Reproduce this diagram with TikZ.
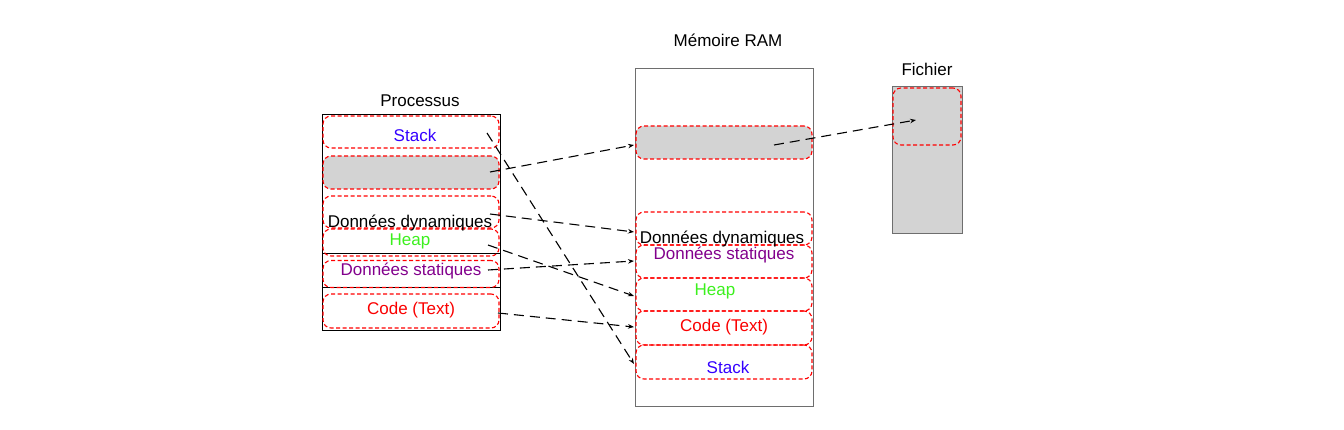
\documentclass[tikz,border=0pt]{standalone}
\usepackage{fontspec}
\setmainfont{Liberation Sans}
\usetikzlibrary{arrows.meta}
\definecolor{stkblue}{RGB}{51,0,255}
\definecolor{heapgreen}{RGB}{60,240,30}
\definecolor{statpurple}{RGB}{130,0,140}
\definecolor{codered}{RGB}{250,0,0}
\definecolor{fillgray}{RGB}{211,211,211}
\definecolor{framegray}{RGB}{110,110,110}
\begin{document}
\begin{tikzpicture}[x=1pt,y=-1pt,
  seg/.style={draw=red, dash pattern=on 4pt off 2.5pt, line width=1.1pt, rounded corners=8pt, minimum width=176pt, inner sep=0pt},
  frame/.style={draw=black, line width=0.9pt, inner sep=0pt},
  ramframe/.style={draw=framegray, line width=0.9pt, inner sep=0pt},
  lbl/.style={font=\fontsize{17}{19}\selectfont, inner sep=0pt},
  conn/.style={draw=black, line width=1.1pt, dash pattern=on 10pt off 6pt, -{Stealth[length=6pt,width=4.5pt]}}
]
\useasboundingbox (0,0) rectangle (1344,430);

% ---------- Processus ----------
\node[lbl] (tproc) at (420,101) {Processus};
\node[frame, minimum width=178pt, minimum height=216pt] (proc) at (411,222) {};
\node[frame, minimum width=178pt, minimum height=34pt] (pstatframe) at (411,270) {};
\node[seg, minimum height=32pt] (pstack) at (411,132) {};
\node[seg, fill=fillgray, minimum height=33pt] (pgray) at (411,172.5) {};
\node[seg, minimum height=32pt] (pdyn) at (411,212) {};
\node[seg, minimum height=27pt] (pheap) at (411,242.5) {};
\node[seg, minimum height=27pt] (pstat) at (411,274) {};
\node[seg, minimum height=34pt] (pcode) at (411,311) {};
\node[lbl, text=stkblue] (lpstack) at (415,135.5) {Stack};
\node[lbl] (lpdyn) at (410,223.5) {Données dynamiques};
\node[lbl, text=heapgreen] (lpheap) at (410,241.5) {Heap};
\node[lbl, text=statpurple] (lpstat) at (411,271.5) {Données statiques};
\node[lbl, text=codered] (lpcode) at (411,310.5) {Code (Text)};

% ---------- Mémoire RAM ----------
\node[lbl] (tram) at (728,40.5) {Mémoire RAM};
\node[ramframe, minimum width=178pt, minimum height=338pt] (ram) at (724,237) {};
\node[seg, fill=fillgray, minimum height=33pt] (rgray) at (724,142.5) {};
\node[seg, minimum height=33pt] (rdyn) at (724,228.5) {};
\node[seg, minimum height=33pt] (rstat) at (724,261.5) {};
\node[seg, minimum height=33pt] (rheap) at (724,294.5) {};
\node[seg, minimum height=34pt] (rcode) at (724,328) {};
\node[seg, minimum height=34pt] (rstack) at (724,362) {};
\node[lbl] (lrdyn) at (722,239.5) {Données dynamiques};
\node[lbl, text=statpurple] (lrstat) at (724,255.5) {Données statiques};
\node[lbl, text=heapgreen] (lrheap) at (715,291.5) {Heap};
\node[lbl, text=codered] (lrcode) at (724,327.5) {Code (Text)};
\node[lbl, text=stkblue] (lrstack) at (728,367.5) {Stack};

% ---------- Fichier ----------
\node[lbl] (tfich) at (927,69.5) {Fichier};
\node[draw=framegray, fill=fillgray, line width=0.9pt, inner sep=0pt, minimum width=70pt, minimum height=147pt] (fich) at (927,159.5) {};
\node[seg, minimum width=68pt, minimum height=57pt] (fpart) at (927,116.5) {};

% ---------- connectors ----------
\coordinate (s1) at (487,133);
\coordinate (s2) at (490,172);
\coordinate (s3) at (490,214);
\coordinate (s4) at (488,245);
\coordinate (s5) at (488,270);
\coordinate (s6) at (498,313);
\coordinate (s7) at (774,145);
\coordinate (e1) at (634,364);
\coordinate (e2) at (634,145);
\coordinate (e3) at (634,232);
\coordinate (e4) at (634,296);
\coordinate (e5) at (634,261);
\coordinate (e6) at (634,327);
\coordinate (e7) at (916,120);
\draw[conn] (s1) -- (e1);
\draw[conn] (s2) -- (e2);
\draw[conn] (s3) -- (e3);
\draw[conn] (s4) -- (e4);
\draw[conn] (s5) -- (e5);
\draw[conn] (s6) -- (e6);
\draw[conn] (s7) -- (e7);
\end{tikzpicture}
\end{document}
